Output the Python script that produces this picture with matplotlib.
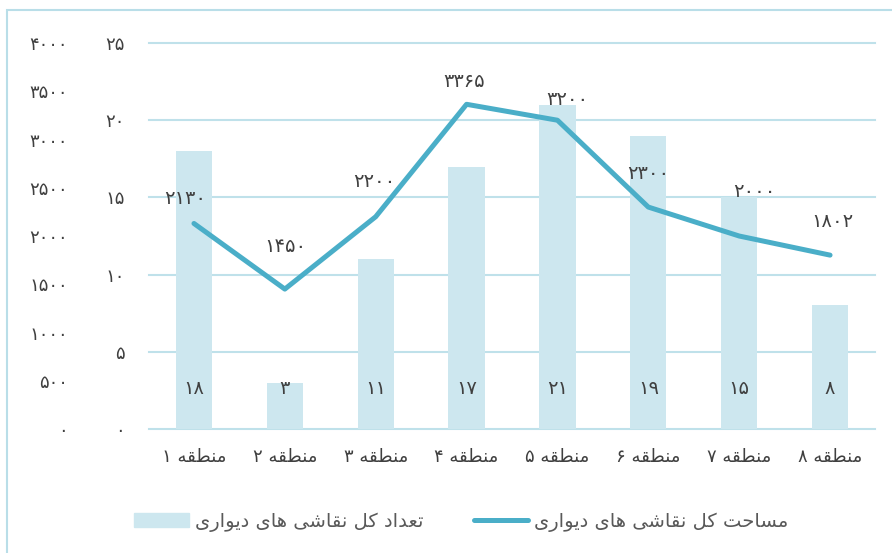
import re
import matplotlib
matplotlib.use("Agg")
import matplotlib.pyplot as plt
from matplotlib.patches import Rectangle
from matplotlib.lines import Line2D

regions = ['منطقه 1', 'منطقه 2', 'منطقه 3', 'منطقه 4',
           'منطقه 5', 'منطقه 6', 'منطقه 7', 'منطقه 8']
mural_count = [18, 3, 11, 17, 21, 19, 15, 8]
mural_area = [2130, 1450, 2200, 3365, 3200, 2300, 2000, 1802]
count_ticks = [0, 5, 10, 15, 20, 25]
area_ticks = [0, 500, 1000, 1500, 2000, 2500, 3000, 3500, 4000]
count_name = 'تعداد کل نقاشی های دیواری'
area_name = 'مساحت کل نقاشی های دیواری'

# label nudges (pixels) for the line values, as placed in the original
area_label_off = [(-9, 25), (1, 43), (-1, 35), (-2, 23), (10, 21), (0, 34), (15, 45), (2, 34)]

bar_color = '#cde7ef'
line_color = '#4aaec8'
grid_color = '#bfe1ea'
text_color = '#404040'

# matplotlib has no arabic shaping, so map letters to presentation forms by hand
FORMS = {
    'ا': ('\uFE8D', '\uFE8E', None, None),
    'د': ('\uFEA9', '\uFEAA', None, None),
    'ر': ('\uFEAD', '\uFEAE', None, None),
    'و': ('\uFEED', '\uFEEE', None, None),
    'ت': ('\uFE95', '\uFE96', '\uFE97', '\uFE98'),
    'ح': ('\uFEA1', '\uFEA2', '\uFEA3', '\uFEA4'),
    'س': ('\uFEB1', '\uFEB2', '\uFEB3', '\uFEB4'),
    'ش': ('\uFEB5', '\uFEB6', '\uFEB7', '\uFEB8'),
    'ط': ('\uFEC1', '\uFEC2', '\uFEC3', '\uFEC4'),
    'ع': ('\uFEC9', '\uFECA', '\uFECB', '\uFECC'),
    'ق': ('\uFED5', '\uFED6', '\uFED7', '\uFED8'),
    'ک': ('\uFB8E', '\uFB8F', '\uFB90', '\uFB91'),
    'ل': ('\uFEDD', '\uFEDE', '\uFEDF', '\uFEE0'),
    'م': ('\uFEE1', '\uFEE2', '\uFEE3', '\uFEE4'),
    'ن': ('\uFEE5', '\uFEE6', '\uFEE7', '\uFEE8'),
    'ه': ('\uFEE9', '\uFEEA', '\uFEEB', '\uFEEC'),
    'ی': ('\uFBFC', '\uFBFD', '\uFBFE', '\uFBFF'),
}
FA_DIGITS = str.maketrans('0123456789', '۰۱۲۳۴۵۶۷۸۹')


def fa_num(v):
    return str(v).translate(FA_DIGITS)


def shape(text):
    out = []
    for i, ch in enumerate(text):
        if ch not in FORMS:
            out.append(ch)
            continue
        prev = text[i - 1] if i > 0 else None
        nxt = text[i + 1] if i + 1 < len(text) else None
        join_prev = prev in FORMS and FORMS[prev][2] is not None
        join_next = nxt in FORMS and FORMS[ch][2] is not None
        iso, fin, ini, med = FORMS[ch]
        if join_prev and join_next:
            out.append(med)
        elif join_prev:
            out.append(fin)
        elif join_next:
            out.append(ini)
        else:
            out.append(iso)
    return ''.join(out)


def rtl(text):
    s = shape(text.translate(FA_DIGITS))[::-1]
    # digit runs stay left-to-right
    return re.sub('[۰-۹]+', lambda m: m.group(0)[::-1], s)


plt.rcParams['font.family'] = ['DejaVu Sans']

fig = plt.figure(figsize=(8.92, 5.53), dpi=100)
ax = fig.add_axes([0.1665, 0.2242, 0.815, 0.698])

x = list(range(len(regions)))
ax.bar(x, mural_count, width=0.4, color=bar_color, zorder=2)
ax.set_ylim(0, 25)
ax.set_xlim(-0.5, len(regions) - 0.5)
ax.set_yticks(count_ticks)
ax.set_yticklabels([fa_num(t) for t in count_ticks])
ax.set_xticks(x)
ax.set_xticklabels([rtl(r) for r in regions])
ax.tick_params(axis='y', length=0, pad=17, labelsize=13, labelcolor=text_color)
ax.tick_params(axis='x', length=0, pad=14, labelsize=13, labelcolor=text_color)
ax.grid(axis='y', color=grid_color, linewidth=1.5)
for gl in ax.get_ygridlines():
    gl.set_clip_on(False)
ax.set_axisbelow(True)
for s in ax.spines.values():
    s.set_visible(False)

for i, v in enumerate(mural_count):
    ax.text(i, 2.65, fa_num(v), ha='center', va='center', fontsize=14, color=text_color)

ax2 = ax.twinx()
ax2.plot(x, mural_area, color=line_color, linewidth=3.6, solid_capstyle='round',
         solid_joinstyle='round')
ax2.set_ylim(0, 4000)
ax2.yaxis.tick_left()
ax2.set_yticks(area_ticks)
ax2.set_yticklabels([fa_num(t) for t in area_ticks])
ax2.tick_params(axis='y', length=0, pad=58, labelsize=13, labelcolor=text_color)
for s in ax2.spines.values():
    s.set_visible(False)

for i, v in enumerate(mural_area):
    dx, dy = area_label_off[i]
    ax2.annotate(fa_num(v), (i, v), xytext=(dx, dy), textcoords='offset pixels',
                 ha='center', va='center', fontsize=14, color=text_color)

# outer frame of the chart box
fig.patches.append(Rectangle((7 / 892, -0.1), 1.2, 1.1 - 10 / 553, transform=fig.transFigure,
                             fill=False, edgecolor='#b9dee8', linewidth=1.5))

handles = [Rectangle((0, 0), 1, 1, color=bar_color),
           Line2D([0], [0], color=line_color, linewidth=3.6, solid_capstyle='round')]
fig.legend(handles, [rtl(count_name), rtl(area_name)], ncol=2, loc='center',
           bbox_to_anchor=(0.517, 0.056), frameon=False, fontsize=14,
           labelcolor='#595959', handlelength=2.8, handleheight=0.7,
           handletextpad=0.3, columnspacing=2.6)

fig.savefig('out.png', dpi=100)
